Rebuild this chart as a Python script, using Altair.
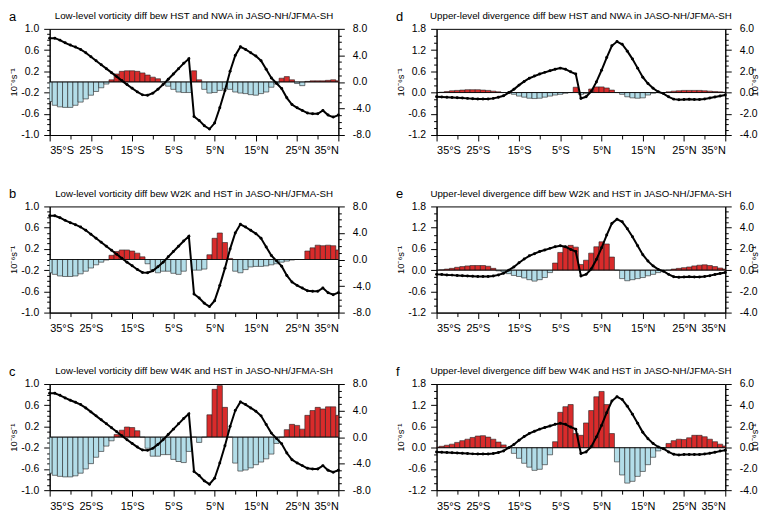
import altair as alt
import pandas as pd

LATS = [-35 + 1.25 * i for i in range(57)]

LINE_LOW = [6.6, 6.6, 6.3, 5.9, 5.55, 5.25, 4.9, 4.4, 3.8, 3.2, 2.6, 2.0, 1.4, 0.8, 0.2,
            -0.4, -0.95, -1.5, -1.95, -2.0, -1.7, -1.1, -0.4, 0.4, 1.2, 2.0, 2.8, 3.5,
            -5.2, -5.8, -6.6, -7.1, -6.2, -3.9, -1.3, 1.6, 4.0, 5.3, 4.9, 4.4, 3.9, 3.2,
            1.9, 0.6, -0.2, -1.0, -2.4, -3.4, -3.9, -4.3, -4.7, -4.8, -4.8, -4.3, -5.0,
            -5.3, -5.0]

LINE_UP = [-0.4, -0.42, -0.45, -0.47, -0.5, -0.52, -0.55, -0.58, -0.6, -0.6, -0.6, -0.55,
           -0.45, -0.3, 0.0, 0.3, 0.7, 1.05, 1.35, 1.55, 1.75, 1.9, 2.05, 2.2, 2.3, 2.2,
           1.95, 1.75, -0.55, -0.4, 0.1, 1.0, 2.1, 3.3, 4.4, 4.8, 4.55, 3.9, 3.15, 2.3,
           1.45, 0.85, 0.4, 0.07, -0.1, -0.4, -0.62, -0.68, -0.65, -0.63, -0.65, -0.65,
           -0.6, -0.52, -0.42, -0.32, -0.23]

BAR_A = [-0.37, -0.44, -0.47, -0.48, -0.48, -0.44, -0.38, -0.32, -0.25, -0.18, -0.11, -0.04,
         0.04, 0.15, 0.2, 0.21, 0.21, 0.2, 0.17, 0.13, 0.09, 0.06, 0.0, -0.08, -0.14, -0.19,
         -0.2, -0.2, 0.21, 0.04, -0.14, -0.21, -0.2, -0.16, -0.13, -0.14, -0.19, -0.21,
         -0.22, -0.24, -0.25, -0.22, -0.19, -0.1, -0.04, 0.07, 0.1, 0.04, -0.03, -0.07,
         0.01, 0.02, 0.02, 0.02, 0.03, 0.04, 0.02]

BAR_B = [-0.25, -0.28, -0.31, -0.32, -0.32, -0.31, -0.27, -0.22, -0.16, -0.1, -0.05, -0.01,
         0.08, 0.15, 0.18, 0.18, 0.16, 0.12, 0.05, -0.08, -0.19, -0.25, -0.22, -0.22,
         -0.26, -0.28, -0.22, 0.0, -0.2, -0.2, -0.18, 0.09, 0.4, 0.5, 0.32, 0.02, -0.22,
         -0.25, -0.19, -0.14, -0.13, -0.13, -0.12, -0.1, -0.08, -0.05, -0.03, -0.01, 0.0,
         0.0, 0.16, 0.22, 0.27, 0.26, 0.27, 0.26, 0.18]

BAR_C = [-0.68, -0.72, -0.74, -0.75, -0.75, -0.73, -0.68, -0.6, -0.5, -0.38, -0.27, -0.17,
         -0.07, 0.05, 0.13, 0.19, 0.18, 0.12, 0.0, -0.21, -0.36, -0.36, -0.33, -0.33,
         -0.42, -0.46, -0.48, -0.27, 0.0, -0.1, 0.0, 0.42, 0.9, 0.97, 0.56, 0.0, -0.49,
         -0.64, -0.62, -0.58, -0.52, -0.47, -0.41, -0.32, -0.12, 0.0, 0.14, 0.24, 0.22,
         0.15, 0.41, 0.5, 0.56, 0.53, 0.57, 0.57, 0.41]

BAR_D = [0.0, 0.01, 0.03, 0.05, 0.06, 0.07, 0.08, 0.08, 0.08, 0.07, 0.06, 0.04, 0.02, 0.0,
         -0.02, -0.05, -0.1, -0.13, -0.16, -0.17, -0.16, -0.13, -0.1, -0.07, -0.05, -0.02,
         0.0, 0.15, -0.05, -0.03, 0.1, 0.16, 0.16, 0.13, 0.07, 0.0, -0.05, -0.12, -0.15,
         -0.16, -0.15, -0.07, -0.02, 0.0, 0.0, 0.02, 0.04, 0.05, 0.06, 0.06, 0.06, 0.06,
         0.05, 0.04, 0.03, 0.02, 0.01]

BAR_E = [0.0, 0.01, 0.03, 0.05, 0.08, 0.1, 0.12, 0.13, 0.13, 0.13, 0.11, 0.05, -0.02, -0.05,
         -0.1, -0.15, -0.18, -0.22, -0.27, -0.31, -0.27, -0.21, -0.07, 0.2, 0.5, 0.66, 0.7,
         0.65, 0.16, 0.28, 0.48, 0.66, 0.8, 0.74, 0.37, 0.0, -0.24, -0.3, -0.27, -0.24,
         -0.21, -0.16, -0.12, -0.07, -0.02, 0.0, 0.03, 0.05, 0.07, 0.09, 0.12, 0.14, 0.15,
         0.13, 0.1, 0.06, 0.03]

BAR_F = [0.02, 0.04, 0.07, 0.1, 0.15, 0.2, 0.24, 0.29, 0.33, 0.34, 0.3, 0.24, 0.16, 0.08,
         0.0, -0.16, -0.3, -0.44, -0.55, -0.64, -0.61, -0.48, -0.2, 0.17, 1.0, 1.16, 1.22,
         0.4, 0.35, 0.7, 1.05, 1.44, 1.59, 1.22, 0.4, -0.4, -0.77, -1.0, -0.95, -0.81,
         -0.67, -0.48, -0.27, -0.09, -0.02, 0.12, 0.2, 0.24, 0.23, 0.28, 0.35, 0.35, 0.31,
         0.24, 0.17, 0.1, 0.05]

TITLES = [
    "Low-level vorticity diff bew HST and NWA in JASO-NH/JFMA-SH",
    "Upper-level divergence diff bew HST and NWA in JASO-NH/JFMA-SH",
    "Low-level vorticity diff bew W2K and HST in JASO-NH/JFMA-SH",
    "Upper-level divergence diff bew W2K and HST in JASO-NH/JFMA-SH",
    "Low-level vorticity diff bew W4K and HST in JASO-NH/JFMA-SH",
    "Upper-level divergence diff bew W4K and HST in JASO-NH/JFMA-SH",
]
LETTERS = ["a", "d", "b", "e", "c", "f"]
BARS = [BAR_A, BAR_D, BAR_B, BAR_E, BAR_C, BAR_F]
KINDS = ["low", "up", "low", "up", "low", "up"]

UNIT = "10\u207b\u2076s\u207b\u00b9"
RED = "#d92b2b"
BLUE = "#b3dde8"
FONT = "Liberation Sans"

# axis specs: (min, max, minor step, major base, major step)
LEFT = {"low": (-1.0, 1.0, 0.1, -1.0, 0.4), "up": (-1.2, 1.8, 0.2, -1.2, 0.6)}
RIGHT = {"low": (-8.0, 8.0, 1.0, -8.0, 4.0), "up": (-4.0, 6.0, 0.5, -4.0, 2.0)}

W, H = 291, 107


def major_test(base, step):
    return f"abs((datum.value - ({base})) / {step} - round((datum.value - ({base})) / {step})) < 0.01"


def make_axis(spec, orient, title=None, title_angle=None, label_pad=5):
    lo, hi, minor, base, step = spec
    n = int(round((hi - lo) / minor))
    vals = [round(lo + minor * i, 3) for i in range(n + 1)]
    test = major_test(base, step)
    kw = dict(
        values=vals,
        orient=orient,
        labelExpr=f"{test} ? replace(format(datum.value, '.1f'), '\u2212', '-') : ''",
        tickSize={"condition": {"test": test, "value": 6}, "value": 3},
        labelOverlap=False,
        labelFontSize=10.5,
        labelPadding=label_pad,
        grid=False,
        domainColor="black",
        tickColor="black",
        labelColor="black",
        labelFont=FONT,
    )
    if title:
        kw.update(title=title, titleFontSize=9.5, titleFontWeight="normal", titleFont=FONT,
                  titlePadding=2, titleColor="black")
        if title_angle is not None:
            kw["titleAngle"] = title_angle
    else:
        kw["title"] = None
    return alt.Axis(**kw)


x_test = "(datum.value + 35) % 10 == 0"
x_axis = alt.Axis(
    values=[-35 + 5 * i for i in range(15)],
    labelExpr=f"{x_test} ? (abs(datum.value) + '\u00b0' + (datum.value < 0 ? 'S' : 'N')) : ''",
    tickSize={"condition": {"test": x_test, "value": 6}, "value": 4},
    labelOverlap=False,
    labelFontSize=11,
    labelPadding=4,
    labelFont=FONT,
    labelColor="black",
    domainColor="black",
    tickColor="black",
    grid=False,
    title=None,
)


def panel(idx):
    kind = KINDS[idx]
    right_col = idx % 2 == 1
    df = pd.DataFrame({"lat": LATS, "bar": BARS[idx],
                       "line": LINE_LOW if kind == "low" else LINE_UP})
    lspec = LEFT[kind]
    rspec = RIGHT[kind]
    xs = alt.Scale(domain=[-35, 35], nice=False, zero=False)
    lscale = alt.Scale(domain=[lspec[0], lspec[1]], nice=False, zero=False)
    laxis = make_axis(lspec, "left", UNIT, label_pad=5)
    base = alt.Chart(df)
    bars = base.transform_calculate(
        x0="datum.lat - 0.625", x1="datum.lat + 0.625", zero="0"
    ).mark_rect(stroke="#222222", strokeWidth=0.6, clip=True).encode(
        x=alt.X("x0:Q", scale=xs, axis=x_axis),
        x2="x1:Q",
        y=alt.Y("bar:Q", scale=lscale, axis=laxis),
        y2="zero:Q",
        color=alt.when(alt.datum.bar >= 0).then(alt.value(RED)).otherwise(alt.value(BLUE)),
    )
    zero = alt.Chart(pd.DataFrame({"z": [0.0]})).mark_rule(color="black", strokeWidth=0.8).encode(
        y=alt.Y("z:Q", scale=lscale, axis=laxis)
    )
    letter = alt.Chart(pd.DataFrame({"t": [LETTERS[idx]]})).mark_text(
        fontSize=13, font=FONT, align="left", baseline="alphabetic", color="black"
    ).encode(text="t:N", x=alt.value(-41), y=alt.value(-8))
    title = alt.Chart(pd.DataFrame({"t": [TITLES[idx]]})).mark_text(
        fontSize=9.8, font=FONT, align="center", baseline="alphabetic", color="black"
    ).encode(text="t:N", x=alt.value(W / 2), y=alt.value(-10))
    left_layer = alt.layer(bars, zero, letter, title)
    line = base.mark_line(
        color="black", strokeWidth=2,
        point=alt.OverlayMarkDef(filled=True, color="black", size=9),
    ).encode(
        x=alt.X("lat:Q", scale=xs, axis=x_axis),
        y=alt.Y("line:Q", scale=alt.Scale(domain=[rspec[0], rspec[1]], nice=False, zero=False),
                axis=make_axis(rspec, "right", UNIT if right_col else None, 270, label_pad=8)),
    )
    return alt.layer(left_layer, line).resolve_scale(y="independent").properties(
        width=W, height=H,
    )


chart = alt.concat(*[panel(i) for i in range(6)], columns=2,
                   spacing={"row": 31, "column": 24}).configure_view(
    stroke="black", strokeWidth=1
).properties(padding={"left": 0, "top": 0, "right": 0, "bottom": 0})

chart.save("out.html", embed_options={"renderer": "svg", "actions": False})
